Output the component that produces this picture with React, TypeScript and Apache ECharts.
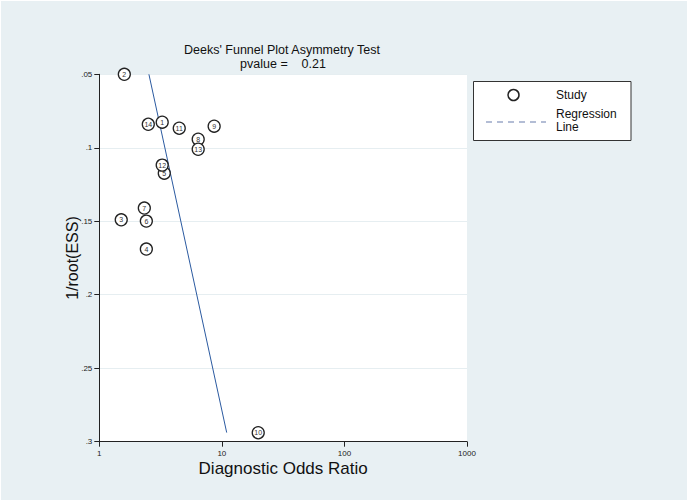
import React, { useEffect, useRef } from "react";
import * as echarts from "echarts";

const studyIds = ["1", "2", "3", "4", "5", "6", "7", "8", "9", "10", "11", "12", "13", "14"];
const studyDOR = [3.26, 1.6, 1.51, 2.42, 3.39, 2.42, 2.33, 6.41, 8.65, 19.8, 4.49, 3.26, 6.41, 2.51];
const studyInvRootESS = [0.0826, 0.05, 0.149, 0.1689, 0.1173, 0.1499, 0.141, 0.0942, 0.0853, 0.2939, 0.0867, 0.1118, 0.101, 0.084];
const regressionDOR = [2.54, 10.95];
const regressionY = [0.05, 0.2938];
const xTicks = [1, 10, 100, 1000];
const yTicks = [0.05, 0.1, 0.15, 0.2, 0.25, 0.3];

const FONT = "Liberation Sans, Arial, sans-serif";
const BG = "#e8f0f3";

export default function App() {
  const ref = useRef<HTMLDivElement>(null);
  useEffect(() => {
    if (!ref.current) return;
    const chart = echarts.init(ref.current, null, { renderer: "svg" });
    const left = 98.3;
    const right = 466;
    const top = 73.3;
    const bottom = 440.7;
    chart.setOption({
      animation: false,
      backgroundColor: BG,
      textStyle: { fontFamily: FONT },
      grid: {
        left: left,
        top: top,
        width: right - left,
        height: bottom - top,
        backgroundColor: "#ffffff",
        show: true,
        borderWidth: 0,
      },
      xAxis: {
        type: "log",
        logBase: 10,
        min: xTicks[0],
        max: xTicks[xTicks.length - 1],
        name: "Diagnostic Odds Ratio",
        nameLocation: "middle",
        nameGap: 18,
        nameMoveOverlap: false,
        nameTextStyle: { fontSize: 17, color: "#111", fontFamily: FONT },
        axisLine: { show: true, onZero: false, lineStyle: { color: "#222", width: 1 } },
        axisTick: { show: true, length: 5, lineStyle: { color: "#222" } },
        axisLabel: {
          fontSize: 8,
          color: "#222",
          margin: 8,
          fontFamily: FONT,
          formatter: (v: number) => String(Math.round(v)),
        },
        splitLine: { show: false },
        minorTick: { show: false },
      },
      yAxis: {
        type: "value",
        inverse: true,
        min: yTicks[0],
        max: yTicks[yTicks.length - 1],
        interval: 0.05,
        name: "1/root(ESS)",
        nameLocation: "middle",
        nameGap: 19,
        nameMoveOverlap: false,
        nameTextStyle: { fontSize: 16, color: "#111", fontFamily: FONT },
        axisLine: { show: true, onZero: false, lineStyle: { color: "#222", width: 1 } },
        axisTick: { show: true, length: 5, lineStyle: { color: "#222" } },
        axisLabel: {
          fontSize: 8,
          color: "#222",
          margin: 7,
          fontFamily: FONT,
          formatter: (v: number) => String(+v.toFixed(2)).replace(/^0/, ""),
        },
        splitLine: { show: true, lineStyle: { color: "#e6eef1", width: 1 } },
      },
      series: [
        {
          type: "line",
          data: regressionDOR.map((x, i) => [x, regressionY[i]]),
          symbol: "none",
          lineStyle: { color: "#2b5aa0", width: 1 },
          z: 2,
        },
        {
          type: "scatter",
          data: studyDOR.map((x, i) => ({ value: [x, studyInvRootESS[i]], name: studyIds[i] })),
          symbol: "circle",
          symbolSize: 12,
          itemStyle: { color: "#ffffff", borderColor: "#222", borderWidth: 1.3, opacity: 1 },
          label: {
            show: true,
            position: "inside",
            formatter: (p: any) => p.name,
            fontSize: 7,
            color: "#333",
            fontFamily: FONT,
          },
          z: 3,
        },
      ],
      graphic: [
        {
          type: "text",
          style: {
            text: "Deeks' Funnel Plot Asymmetry Test",
            x: 281,
            y: 49,
            textAlign: "center",
            textVerticalAlign: "middle",
            fontSize: 12.5,
            fontFamily: FONT,
            fill: "#111",
          },
        },
        {
          type: "text",
          style: {
            text: "pvalue =    0.21",
            x: 282,
            y: 62.5,
            textAlign: "center",
            textVerticalAlign: "middle",
            fontSize: 12.5,
            fontFamily: FONT,
            fill: "#111",
          },
        },
        {
          type: "rect",
          shape: { x: 472.5, y: 80.5, width: 157.5, height: 59 },
          style: { fill: "#ffffff", stroke: "#333", lineWidth: 1 },
        },
        {
          type: "circle",
          shape: { cx: 512.5, cy: 94, r: 5.5 },
          style: { fill: "#ffffff", stroke: "#222", lineWidth: 1.5 },
        },
        {
          type: "text",
          style: {
            text: "Study",
            x: 555,
            y: 94,
            textVerticalAlign: "middle",
            fontSize: 12,
            fontFamily: FONT,
            fill: "#111",
          },
        },
        {
          type: "line",
          shape: { x1: 485, y1: 121, x2: 545, y2: 121 },
          style: { stroke: "#9aa8c8", lineWidth: 1.5, lineDash: [6, 5] },
        },
        {
          type: "text",
          style: {
            text: "Regression",
            x: 555,
            y: 113,
            textVerticalAlign: "middle",
            fontSize: 12,
            fontFamily: FONT,
            fill: "#111",
          },
        },
        {
          type: "text",
          style: {
            text: "Line",
            x: 555,
            y: 126,
            textVerticalAlign: "middle",
            fontSize: 12,
            fontFamily: FONT,
            fill: "#111",
          },
        },
      ],
    });
    return () => chart.dispose();
  }, []);
  return (
    <div
      ref={ref}
      style={{ position: "fixed", left: 0, top: 0, width: 688, height: 501, boxSizing: "border-box", border: "1px solid #ffffff" }}
    />
  );
}
